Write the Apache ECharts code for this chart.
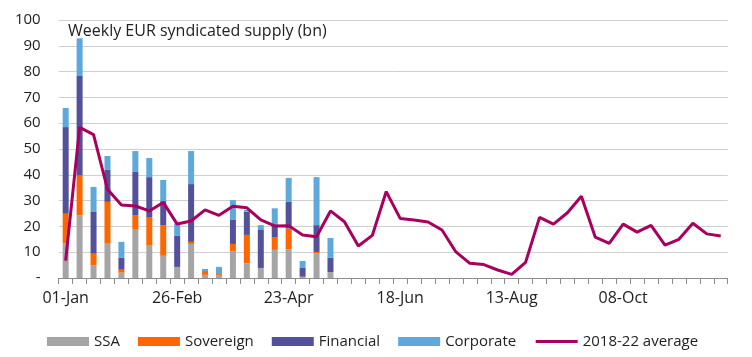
<!DOCTYPE html>
<html>
<head>
<meta charset="utf-8">
<script src="https://cdn.jsdelivr.net/npm/echarts@6/dist/echarts.min.js"></script>
<style>
html,body{margin:0;padding:0;background:#fff;}
#chart{width:752px;height:357px;}
</style>
</head>
<body>
<div id="chart"></div>
<script>
var weeks = ['01-Jan','08-Jan','15-Jan','22-Jan','29-Jan','05-Feb','12-Feb','19-Feb','26-Feb','05-Mar','12-Mar','19-Mar','26-Mar','02-Apr','09-Apr','16-Apr','23-Apr','30-Apr','07-May','14-May','21-May','28-May','04-Jun','11-Jun','18-Jun','25-Jun','02-Jul','09-Jul','16-Jul','23-Jul','30-Jul','06-Aug','13-Aug','20-Aug','27-Aug','03-Sep','10-Sep','17-Sep','24-Sep','01-Oct','08-Oct','15-Oct','22-Oct','29-Oct','05-Nov','12-Nov','19-Nov','26-Nov'];

var ssa       = [13.4,24.4,5.0,13.3,2.1,18.7,12.8,8.6,4.3,13.2,1.2,1.2,10.5,5.7,3.9,10.9,11.2,0.5,9.7,2.3];
var sovereign = [11.5,15.3,4.4,16.2,1.1,5.5,10.6,11.9,0,0.8,1.5,0.7,2.7,11.0,0,5.0,8.0,0,0.4,0];
var financial = [33.6,38.6,16.2,12.4,4.6,16.9,15.7,9.3,12.0,22.4,0,0,9.3,9.0,14.7,4.5,10.3,3.4,10.4,5.5];
var corporate = [7.4,14.6,9.7,5.4,6.2,8.1,7.4,8.2,4.8,12.8,0.8,2.4,7.7,0.7,1.9,6.6,9.3,2.7,18.6,7.7];

var avg2018_22 = [6.7,58.4,55.6,34.4,28.3,27.9,26.0,29.3,20.9,22.1,26.4,24.3,27.8,27.2,22.5,20.2,20.3,16.7,16.0,26.0,
  21.8,12.4,16.5,33.5,23.1,22.5,21.7,18.6,10.1,5.7,5.2,3.1,1.4,6.1,23.5,20.9,25.3,31.7,15.8,13.4,
  20.9,17.8,20.4,12.7,15.0,21.2,17.1,16.3];

var yTicks = ['-','10','20','30','40','50','60','70','80','90','100'];

var FONT = 'Open Sans';
var TXT = '#222';
var LINE_COLOR = '#a8005f';

function barSeries(name, data, color) {
  return {
    name: name, type: 'bar', stack: 'supply', data: data,
    barWidth: 6, itemStyle: {color: color}, emphasis: {disabled: true}
  };
}

var chart = echarts.init(document.getElementById('chart'), null, {renderer: 'canvas'});
chart.setOption({
  animation: false,
  textStyle: {fontFamily: FONT},
  title: {
    text: 'Weekly EUR syndicated supply (bn)',
    left: 63, top: 18,
    textStyle: {fontFamily: FONT, fontSize: 16, fontWeight: 'normal', color: TXT}
  },
  grid: {left: 58.7, right: 24.3, top: 20, bottom: 79},
  legend: {
    left: 42, top: 329,
    itemWidth: 42, itemHeight: 9, itemGap: 18,
    textStyle: {fontFamily: FONT, fontSize: 15, color: TXT},
    data: [
      {name: 'SSA', icon: 'rect'},
      {name: 'Sovereign', icon: 'rect'},
      {name: 'Financial', icon: 'rect'},
      {name: 'Corporate', icon: 'rect'},
      {name: '2018-22 average', itemStyle: {opacity: 0, color: 'transparent', borderWidth: 0},
       lineStyle: {width: 3, color: LINE_COLOR}}
    ]
  },
  xAxis: {
    type: 'category', data: weeks, boundaryGap: true,
    axisLine: {lineStyle: {color: '#8c8c8c', width: 1}},
    axisTick: {show: true, length: 6, interval: 0, lineStyle: {color: '#8c8c8c'}},
    axisLabel: {interval: 7, margin: 12, fontFamily: FONT, fontSize: 16, color: TXT}
  },
  yAxis: {
    type: 'value', min: 0, max: 100, interval: 10,
    axisLine: {show: false}, axisTick: {show: false},
    splitLine: {lineStyle: {color: '#d0d0d0', width: 1}},
    axisLabel: {
      margin: 18, fontFamily: FONT, fontSize: 15, color: TXT,
      formatter: function (v) { return yTicks[Math.round(v / 10)]; }
    }
  },
  series: [
    barSeries('SSA', ssa, '#a5a5a5'),
    barSeries('Sovereign', sovereign, '#ff6600'),
    barSeries('Financial', financial, '#525199'),
    barSeries('Corporate', corporate, '#5fa8dc'),
    {
      name: '2018-22 average', type: 'line', data: avg2018_22,
      symbol: 'none', smooth: false, z: 5,
      lineStyle: {color: LINE_COLOR, width: 3},
      itemStyle: {color: LINE_COLOR},
      emphasis: {disabled: true}
    }
  ]
});
</script>
</body>
</html>
